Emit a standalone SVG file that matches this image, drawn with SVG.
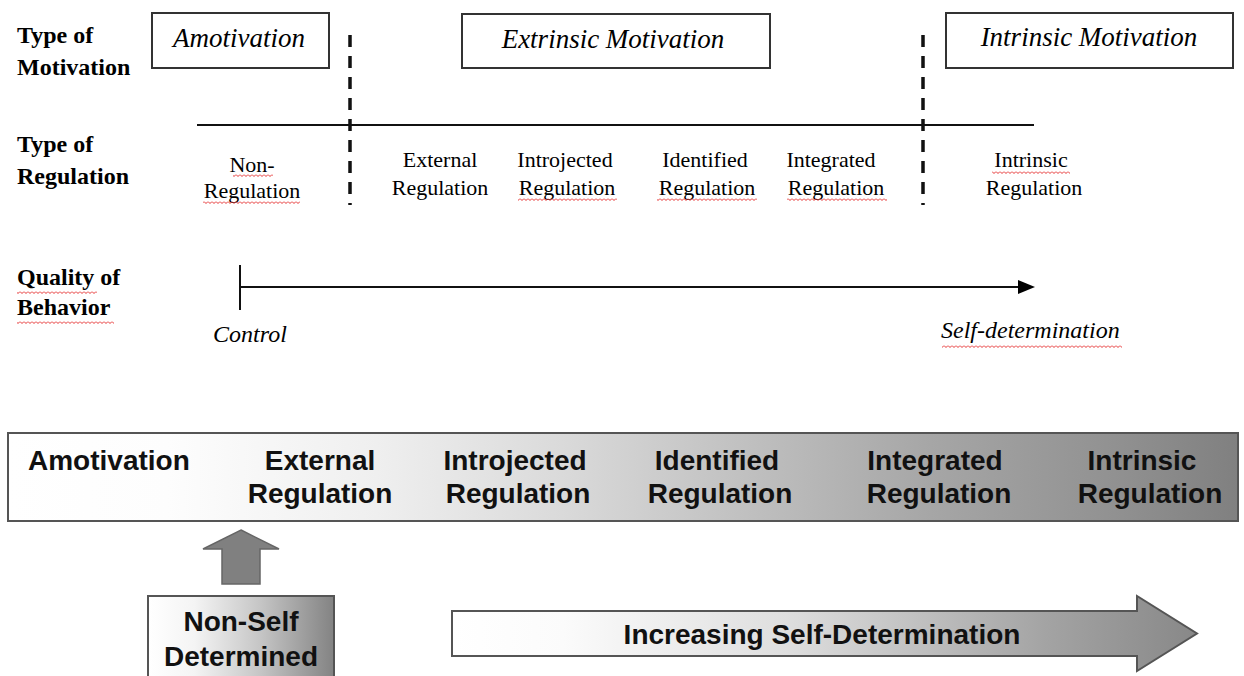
<svg xmlns="http://www.w3.org/2000/svg" width="1244" height="676" viewBox="0 0 1244 676">
<style>
.lbl{font-family:"Liberation Serif","Times New Roman",serif;font-weight:bold;font-size:24px;fill:#000}
.reg{font-family:"Liberation Serif","Times New Roman",serif;font-size:22px;fill:#000;text-anchor:middle}
.it{font-family:"Liberation Serif","Times New Roman",serif;font-style:italic;font-size:27px;fill:#000;text-anchor:middle}
.it2{font-family:"Liberation Serif","Times New Roman",serif;font-style:italic;font-size:24px;fill:#000}
.box{fill:#fff;stroke:#333;stroke-width:2}
.dash{stroke:#111;stroke-width:3.5;stroke-dasharray:12 9;fill:none}
.line{stroke:#111;stroke-width:2;fill:none}
.b{font-family:"Liberation Sans",Arial,sans-serif;font-weight:bold;font-size:28px;fill:#111;text-anchor:middle}
.sq{fill:url(#sq)}
</style>
<defs>
<pattern id="sq" width="4" height="3" patternUnits="userSpaceOnUse">
<path d="M0,0.5 L2,2.5 L4,0.5" stroke="#e53030" stroke-width="1" fill="none"/>
</pattern>
<linearGradient id="gBar" x1="0" y1="0" x2="1" y2="0">
<stop offset="0" stop-color="#ffffff"/>
<stop offset="0.13" stop-color="#fdfdfd"/>
<stop offset="0.3" stop-color="#efefef"/>
<stop offset="0.45" stop-color="#dadada"/>
<stop offset="0.6" stop-color="#c0c0c0"/>
<stop offset="0.75" stop-color="#a6a6a6"/>
<stop offset="0.9" stop-color="#919191"/>
<stop offset="1" stop-color="#808080"/>
</linearGradient>
<linearGradient id="gBox" x1="0" y1="0" x2="1" y2="0">
<stop offset="0" stop-color="#ffffff"/>
<stop offset="0.25" stop-color="#f4f4f4"/>
<stop offset="0.6" stop-color="#c6c6c6"/>
<stop offset="1" stop-color="#838383"/>
</linearGradient>
<linearGradient id="gArr" gradientUnits="userSpaceOnUse" x1="452" y1="0" x2="1197" y2="0">
<stop offset="0" stop-color="#ffffff"/>
<stop offset="0.15" stop-color="#fbfbfb"/>
<stop offset="0.45" stop-color="#dedede"/>
<stop offset="0.8" stop-color="#a3a3a3"/>
<stop offset="1" stop-color="#888888"/>
</linearGradient>
</defs>
<rect width="1244" height="676" fill="#fff"/>

<g id="row-labels">
<text class="lbl" x="17" y="43">Type of</text>
<text class="lbl" x="17" y="75">Motivation</text>
<text class="lbl" x="17" y="152">Type of</text>
<text class="lbl" x="17" y="184">Regulation</text>
<text class="lbl" x="17" y="285">Quality of</text>
<text class="lbl" x="17" y="315">Behavior</text>
<rect class="sq" x="17" y="291" width="80" height="3"/>
<rect class="sq" x="17" y="321" width="97" height="3"/>
</g>

<g id="box-amotivation">
<rect class="box" x="152" y="13" width="177" height="55"/>
<text class="it" x="239" y="47">Amotivation</text>
</g>
<g id="box-extrinsic">
<rect class="box" x="462" y="14" width="308" height="54"/>
<text class="it" x="613" y="48">Extrinsic Motivation</text>
</g>
<g id="box-intrinsic">
<rect class="box" x="946" y="13" width="287" height="55"/>
<text class="it" x="1089" y="46">Intrinsic Motivation</text>
</g>

<g id="connectors">
<line class="dash" x1="350" y1="35" x2="350" y2="205"/>
<line class="dash" x1="923" y1="35" x2="923" y2="205"/>
<line class="line" x1="197" y1="125" x2="1034" y2="125"/>
<line class="line" x1="240" y1="265" x2="240" y2="310"/>
<line class="line" x1="240" y1="287" x2="1022" y2="287"/>
<polygon points="1018,280 1035,287 1018,294" fill="#000"/>
</g>

<g id="reg-non">
<text class="reg" x="252" y="172">Non-</text>
<text class="reg" x="252" y="198">Regulation</text>
<rect class="sq" x="233" y="174" width="40" height="3"/>
<rect class="sq" x="203" y="201" width="97" height="3"/>
</g>
<g id="reg-external">
<text class="reg" x="440" y="167">External</text>
<text class="reg" x="440" y="195">Regulation</text>
</g>
<g id="reg-introjected">
<text class="reg" x="565" y="167">Introjected</text>
<text class="reg" x="567" y="195">Regulation</text>
<rect class="sq" x="518" y="198" width="99" height="3"/>
</g>
<g id="reg-identified">
<text class="reg" x="705" y="167">Identified</text>
<text class="reg" x="707" y="195">Regulation</text>
<rect class="sq" x="657" y="198" width="100" height="3"/>
</g>
<g id="reg-integrated">
<text class="reg" x="831" y="167">Integrated</text>
<text class="reg" x="836" y="195">Regulation</text>
<rect class="sq" x="787" y="198" width="100" height="3"/>
</g>
<g id="reg-intrinsic">
<text class="reg" x="1031" y="167">Intrinsic</text>
<text class="reg" x="1034" y="195">Regulation</text>
<rect class="sq" x="992" y="171" width="78" height="3"/>
</g>

<g id="quality-ends">
<text class="it2" x="213" y="342">Control</text>
<text class="it2" x="941" y="338">Self-determination</text>
<rect class="sq" x="942" y="345" width="180" height="3"/>
</g>

<g id="continuum-bar">
<rect x="8" y="433" width="1230" height="88" fill="url(#gBar)" stroke="#555" stroke-width="2"/>
<text class="b" x="28" y="470" style="text-anchor:start">Amotivation</text>
<text class="b" x="320" y="470">External</text>
<text class="b" x="320" y="503">Regulation</text>
<text class="b" x="515" y="470">Introjected</text>
<text class="b" x="518" y="503">Regulation</text>
<text class="b" x="717" y="470">Identified</text>
<text class="b" x="720" y="503">Regulation</text>
<text class="b" x="935" y="470">Integrated</text>
<text class="b" x="939" y="503">Regulation</text>
<text class="b" x="1142" y="470">Intrinsic</text>
<text class="b" x="1150" y="503">Regulation</text>
</g>

<g id="up-arrow">
<polygon points="241,530 279,549 260,549 260,584 222,584 222,549 203,549" fill="#808080" stroke="#666" stroke-width="1.5"/>
</g>

<g id="non-self-box">
<rect x="148" y="596" width="186" height="84" fill="url(#gBox)" stroke="#555" stroke-width="2"/>
<text class="b" x="241" y="631">Non-Self</text>
<text class="b" x="241" y="666">Determined</text>
</g>

<g id="increasing-arrow">
<polygon points="452,611 1137,611 1137,596 1197,633.5 1137,671 1137,656 452,656" fill="url(#gArr)" stroke="#555" stroke-width="2"/>
<text class="b" x="822" y="644">Increasing Self-Determination</text>
</g>
</svg>
